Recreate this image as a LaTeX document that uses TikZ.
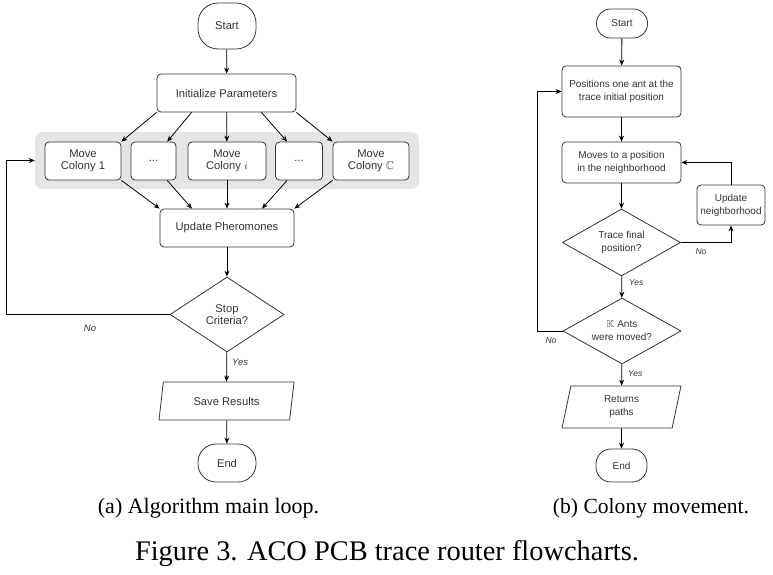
\documentclass[tikz,border=0pt]{standalone}
\usepackage{amsmath}
\usepackage{amssymb}
\usepackage{fontspec}
\setmainfont{Liberation Serif}
\setsansfont{Liberation Sans}
\usetikzlibrary{positioning}
\usetikzlibrary{shapes.geometric}
\usetikzlibrary{arrows.meta}
\usetikzlibrary{calc}
\definecolor{lineColor}{rgb}{0.2,0.2,0.2}
\definecolor{groupColor}{rgb}{0.9,0.9,0.9}

\begin{document}
\begin{tikzpicture}[x=1pt,y=-1pt]

            \tikzstyle{leftFont} = [font=\sffamily\fontsize{11.2}{12.6}\selectfont];
            \tikzstyle{rightFont} = [font=\sffamily\fontsize{10}{13}\selectfont];
            \tikzstyle{terminalNode} = [draw=lineColor, line width=0.8pt, text=lineColor, inner sep=0pt];
            \tikzstyle{processNode} = [draw=lineColor, line width=0.8pt, text=lineColor, rounded corners=4pt, align=center, inner sep=0pt];
            \tikzstyle{decisionNode} = [diamond, draw=lineColor, line width=0.8pt, text=lineColor, align=center, inner sep=0pt];
            \tikzstyle{ioNode} = [trapezium, trapezium stretches body, draw=lineColor, line width=0.8pt, text=lineColor, align=center, inner sep=0pt];
            \tikzstyle{groupBox} = [fill=groupColor, rounded corners=8pt, minimum width=384, minimum height=57];
            \tikzstyle{flowArrow} = [draw=black, line width=0.8pt, -{Stealth[length=6pt,width=5pt]}];
            \tikzstyle{branchLabel} = [text=lineColor, inner sep=0pt];

            \useasboundingbox (0,0) rectangle (773,575);

            % (a) main loop
            \node[groupBox] (colonies) at (227,160.5) {};
            \node[terminalNode, leftFont, rounded corners=20pt, minimum width=58, minimum height=46] (startA) at (227,26) {Start};
            \node[processNode, leftFont, minimum width=139, minimum height=38] (initA) at (226.5,93) {Initialize Parameters};
            \node[processNode, leftFont, fill=white, minimum width=76, minimum height=38] (colony1) at (83,161) {Move\\Colony 1};
            \node[processNode, leftFont, fill=white, minimum width=45, minimum height=38] (dotsL) at (153.5,161) {...};
            \node[processNode, leftFont, fill=white, minimum width=78, minimum height=38] (colonyI) at (227,161) {Move\\Colony $i$};
            \node[processNode, leftFont, fill=white, minimum width=47, minimum height=38] (dotsR) at (299,161) {...};
            \node[processNode, leftFont, fill=white, minimum width=76, minimum height=38] (colonyC) at (371,161) {Move\\Colony $\mathbb{C}$};
            \node[processNode, leftFont, minimum width=134, minimum height=38] (updateA) at (227,228) {Update Pheromones};
            \node[decisionNode, leftFont, aspect=1.52, minimum width=114, minimum height=75] (stopA) at (227,314.5) {Stop\\Criteria?};
            \node[ioNode, leftFont, trapezium left angle=62, trapezium right angle=118, minimum width=135, minimum height=38] (saveA) at (226.5,401) {Save Results};
            \node[terminalNode, leftFont, rounded corners=18pt, minimum width=58, minimum height=38] (endA) at (227,463) {End};
            \coordinate (loopA) at (6,314.5);

            \draw[flowArrow] (startA) -- (initA);
            \draw[flowArrow] (initA.south west) -- (colony1.north east);
            \draw[flowArrow] ($(initA.south west)!0.25!(initA.south east)$) -- ($(dotsL.north west)!0.8!(dotsL.north east)$);
            \draw[flowArrow] (initA) -- (colonyI);
            \draw[flowArrow] ($(initA.south west)!0.75!(initA.south east)$) -- ($(dotsR.north west)!0.25!(dotsR.north east)$);
            \draw[flowArrow] (initA.south east) -- (colonyC.north west);
            \draw[flowArrow] (colony1.south east) -- (updateA.north west);
            \draw[flowArrow] ($(dotsL.south west)!0.8!(dotsL.south east)$) -- ($(updateA.north west)!0.24!(updateA.north east)$);
            \draw[flowArrow] (colonyI) -- (updateA);
            \draw[flowArrow] ($(dotsR.south west)!0.25!(dotsR.south east)$) -- ($(updateA.north west)!0.76!(updateA.north east)$);
            \draw[flowArrow] (colonyC.south west) -- (updateA.north east);
            \draw[flowArrow] (updateA) -- (stopA);
            \draw[flowArrow] (stopA) -- (saveA);
            \draw[flowArrow] (saveA) -- (endA);
            \draw[flowArrow] (stopA.west) -- (loopA) |- (colonies.west);

            \node[branchLabel, font=\sffamily\itshape\fontsize{9.5}{11}\selectfont] (noA) at (90,328) {No};
            \node[branchLabel, font=\sffamily\itshape\fontsize{9.5}{11}\selectfont, anchor=west] (yesA) at (232,362) {Yes};

            % (b) colony movement
            \node[terminalNode, rightFont, rounded corners=14pt, minimum width=51, minimum height=29] (startB) at (622,23.5) {Start};
            \node[processNode, rightFont, minimum width=119, minimum height=51] (placeB) at (621.5,91.5) {Positions one ant at the\\trace initial position};
            \node[processNode, rightFont, minimum width=119, minimum height=41] (moveB) at (621.5,162.5) {Moves to a position\\in the neighborhood};
            \node[decisionNode, rightFont, aspect=1.76, minimum width=118, minimum height=67] (traceB) at (621.5,242.5) {Trace final\\position?};
            \node[processNode, rightFont, minimum width=68, minimum height=40] (neighB) at (731,205) {Update\\neighborhood};
            \node[decisionNode, rightFont, aspect=1.79, minimum width=118, minimum height=66] (antsB) at (622,331) {$\mathbb{K}$ Ants\\were moved?};
            \node[ioNode, rightFont, trapezium left angle=68, trapezium right angle=112, minimum width=119, minimum height=42] (returnB) at (621.5,407) {Returns\\paths};
            \node[terminalNode, rightFont, rounded corners=15pt, minimum width=51, minimum height=33] (endB) at (621.5,465.5) {End};
            \coordinate (loopB) at (537,331);

            \draw[flowArrow] (startB) -- (placeB);
            \draw[flowArrow] (placeB) -- (moveB);
            \draw[flowArrow] (moveB) -- (traceB);
            \draw[flowArrow] (traceB.east) -| (neighB.south);
            \draw[flowArrow] (neighB.north) |- (moveB.east);
            \draw[flowArrow] (traceB) -- (antsB);
            \draw[flowArrow] (antsB) -- (returnB);
            \draw[flowArrow] (returnB) -- (endB);
            \draw[flowArrow] (antsB.west) -- (loopB) |- (placeB.west);

            \node[branchLabel, font=\sffamily\itshape\fontsize{8.5}{10}\selectfont] (noTrace) at (701,252) {No};
            \node[branchLabel, font=\sffamily\itshape\fontsize{8.5}{10}\selectfont, anchor=west] (yesTrace) at (629,283) {Yes};
            \node[branchLabel, font=\sffamily\itshape\fontsize{8.5}{10}\selectfont] (noAnts) at (551,341) {No};
            \node[branchLabel, font=\sffamily\itshape\fontsize{8.5}{10}\selectfont, anchor=west] (yesAnts) at (628,374) {Yes};

            % captions
            \node[anchor=base, font=\fontsize{22}{26}\selectfont, inner sep=0pt] (capA) at (208.5,513) {(a) Algorithm main loop.};
            \node[anchor=base, font=\fontsize{21.6}{26}\selectfont, inner sep=0pt] (capB) at (651,513) {(b) Colony movement.};
            \node[anchor=base, font=\fontsize{28.4}{32}\selectfont, inner sep=0pt] (capFig) at (387,560) {Figure 3. ACO PCB trace router flowcharts.};

\end{tikzpicture}
\end{document}
